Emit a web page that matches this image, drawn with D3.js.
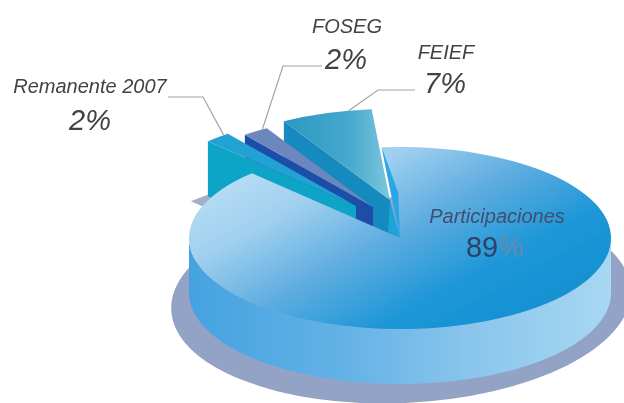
<!DOCTYPE html>
<meta charset="UTF-8">
<style>
body { margin: 0; background: #fff; }
text { font-family: "Liberation Sans", sans-serif; font-style: italic; fill: #414347; }
.name { font-size: 20px; }
.pct { font-size: 29px; }
.leader { fill: none; stroke: #a4a4a4; stroke-width: 1.2px; }
</style>
<body>
<script src="https://d3js.org/d3.v7.min.js"></script>
<script>

// values
var categories = ["Participaciones", "Remanente 2007", "FOSEG", "FEIEF"];
var shares = [89, 2, 2, 7];

var width = 624, height = 403;

// pie geometry: tilted disc seen from above
var cx = 400, cy = 238, rx = 211, ry = 91, depth = 55;
var rad = Math.PI / 180;

// how far each slice is pulled out of the pie, and its colours
var slices = {
  "Participaciones": {dx: 0, dy: 0},
  "Remanente 2007": {dx: -44, dy: -32, top: "#22a2d2", wall: "#10a4c8"},
  "FOSEG": {dx: -27, dy: -31, top: "#6c86be", wall: "#1a4ea8"},
  "FEIEF": {dx: -10, dy: -38, top: "url(#feiefTop)", wall: "#1289bf"}
};

// label layout
var labels = [
  {name: "Remanente 2007", x: 90, y: 93, px: 90, py: 130, elbow: [[168, 97], [203, 97]], at: 0.8},
  {name: "FOSEG", x: 347, y: 33, px: 346, py: 69, elbow: [[322, 66], [283, 66]], at: 0.8},
  {name: "FEIEF", x: 446, y: 59, px: 445, py: 93, elbow: [[415, 90], [378, 90]], at: 0.75}
];

var svg = d3.select("body").append("svg")
    .attr("width", width)
    .attr("height", height);

var defs = svg.append("defs");

function gradient(id, x1, y1, x2, y2, stops) {
  var g = defs.append("linearGradient").attr("id", id)
      .attr("x1", x1).attr("y1", y1).attr("x2", x2).attr("y2", y2);
  stops.forEach(function(s) {
    g.append("stop").attr("offset", s[0]).attr("stop-color", s[1]);
  });
}

gradient("mainTop", 0, 0.1, 0.88, 0.8, [[0, "#c2e4f6"], [0.3, "#a0d0ef"], [0.55, "#5fade0"], [0.8, "#1f97d7"], [1, "#1292d3"]]);
gradient("mainWall", 0, 0, 1, 0, [[0, "#45a2e0"], [0.35, "#62b1e6"], [0.65, "#88c4ec"], [1, "#a8d8f2"]]);
gradient("feiefTop", 0, 0, 1, 0, [[0, "#2a98c2"], [0.6, "#45a8cc"], [1, "#7cc6de"]]);

var soft = defs.append("filter").attr("id", "soft");
soft.append("feGaussianBlur").attr("stdDeviation", 0.6);
var softer = defs.append("filter").attr("id", "softText");
softer.append("feGaussianBlur").attr("stdDeviation", 0.4);

var pie = d3.pie().sort(null)
    .startAngle(-5 * rad)
    .endAngle(355 * rad);

var arcs = pie(shares).map(function(d, i) {
  d.name = categories[i];
  d.offset = slices[d.name];
  return d;
});

var arc = d3.arc().innerRadius(0).outerRadius(rx);

// a point on the disc: angle clockwise from north, r as a fraction of the radius
function polar(a, r, o) {
  return [cx + o.dx + r * rx * Math.sin(a), cy + o.dy - r * ry * Math.cos(a)];
}

var chart = svg.append("g").attr("filter", "url(#soft)");
var notes = svg.append("g").attr("filter", "url(#softText)");

// floor shadow
chart.append("ellipse")
    .attr("cx", 401).attr("cy", 300)
    .attr("rx", 230).attr("ry", 103)
    .attr("transform", "rotate(-2.5 401 300)")
    .attr("fill", "#93a3c6");

function topFace(d, fill) {
  chart.append("path")
      .attr("d", arc(d))
      .attr("transform", "translate(" + (cx + d.offset.dx) + "," + (cy + d.offset.dy) + ") scale(1," + ry / rx + ")")
      .attr("fill", fill);
}

var byName = {};
arcs.forEach(function(d) { byName[d.name] = d; });

// little shadow of the outermost slice
var rem = byName["Remanente 2007"];
topFace({startAngle: rem.startAngle, endAngle: rem.endAngle, offset: {dx: -61, dy: 28}}, "#a3aec9");

// pulled-out slices, back to front: wall first, then the top
var line = d3.line();
["FEIEF", "FOSEG", "Remanente 2007"].forEach(function(name) {
  var d = byName[name], o = d.offset;
  var a = polar(d.startAngle, 1, o), b = polar(d.startAngle, 0, o);
  chart.append("path")
      .attr("d", line([a, b, [b[0], b[1] + depth], [a[0], a[1] + depth]]) + "Z")
      .attr("fill", o.wall);
  topFace(d, o.top);
});

// main body: outer wall along the front half of the rim
var main = byName["Participaciones"];
var area = d3.area()
    .x(function(t) { return polar(t, 1, main.offset)[0]; })
    .y0(function(t) { return polar(t, 1, main.offset)[1]; })
    .y1(function(t) { return polar(t, 1, main.offset)[1] + depth; });

chart.append("path")
    .attr("d", area(d3.range(90, 271, 2).map(function(t) { return t * rad; })))
    .attr("fill", "url(#mainWall)");

topFace(main, "url(#mainTop)");

// bright edge where the main body meets the FEIEF slice
var edge = main.startAngle, fe = byName["FEIEF"];
chart.append("path")
    .attr("d", line([polar(edge, 1, main.offset), polar(edge + 4 * rad, 0.5, main.offset), polar(0, 0, main.offset), polar(edge, 0.5, main.offset)]) + "Z")
    .attr("fill", "#2aa6e4");
chart.append("path")
    .attr("d", line([polar(0, 0, fe.offset), polar(0, 0, main.offset), polar(main.endAngle, 0.08, main.offset)]) + "Z")
    .attr("fill", "#1fa3d8");

// leaders and labels
labels.forEach(function(l) {
  var d = byName[l.name];
  var tip = polar(d.startAngle + l.at * (d.endAngle - d.startAngle), 1, d.offset);
  notes.append("path").attr("class", "leader").attr("d", line(l.elbow.concat([tip])));
  notes.append("text").attr("class", "name").attr("x", l.x).attr("y", l.y)
      .attr("text-anchor", "middle").text(l.name);
  notes.append("text").attr("class", "pct").attr("x", l.px).attr("y", l.py)
      .attr("text-anchor", "middle").text(shares[categories.indexOf(l.name)] + "%");
});

notes.append("text").attr("class", "name").attr("x", 497).attr("y", 223)
    .attr("text-anchor", "middle").style("fill", "#3f4f6e").text(categories[0]);
var big = notes.append("text").attr("class", "pct").attr("x", 495).attr("y", 257)
    .attr("text-anchor", "middle").style("font-style", "normal").style("fill", "#2f4268");
big.append("tspan").text(shares[0]);
big.append("tspan").style("fill", "#6d88a8").text("%");

</script>
</body>
